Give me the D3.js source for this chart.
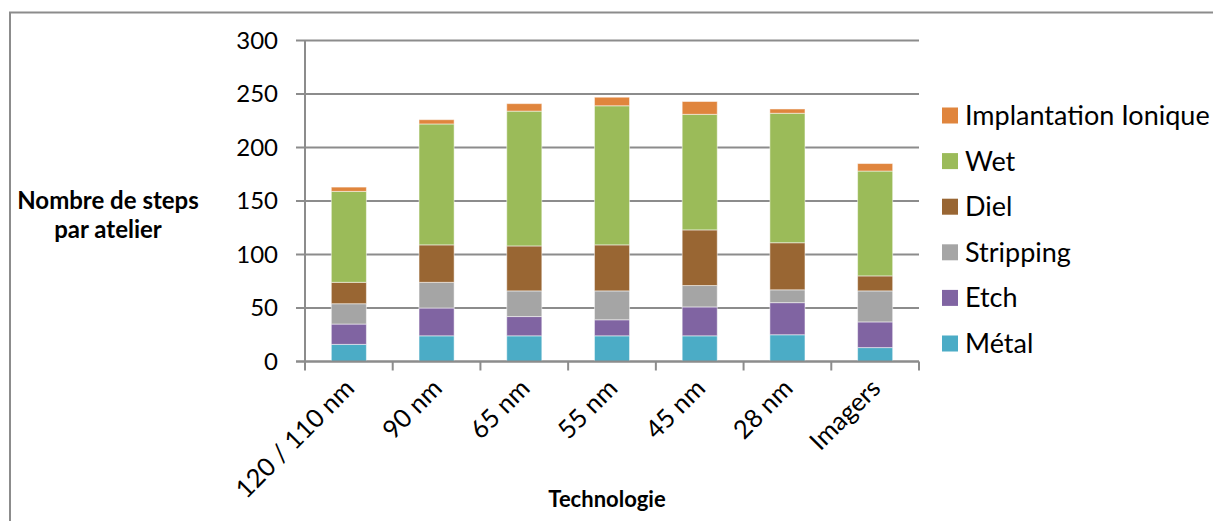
<!DOCTYPE html>
<html>
<head>
<meta charset="utf-8">
<script src="https://cdn.jsdelivr.net/npm/d3@7"></script>
<style>
  html, body { margin: 0; padding: 0; background: #fff; }
  svg { display: block; font-family: Lato, "Open Sans", sans-serif; }
</style>
</head>
<body>
<svg id="chart" width="1213" height="521"></svg>
<script>
const categories = ["120 / 110 nm", "90 nm", "65 nm", "55 nm", "45 nm", "28 nm", "Imagers"];
const seriesNames = ["Métal", "Etch", "Stripping", "Diel", "Wet", "Implantation Ionique"];
const metal     = [16, 24, 24, 24, 24, 25, 13];
const etch      = [19, 26, 18, 15, 27, 30, 24];
const stripping = [19, 24, 24, 27, 20, 12, 29];
const diel      = [20, 35, 42, 43, 52, 44, 14];
const wet       = [85, 113, 126, 130, 108, 121, 98];
const implant   = [4, 4, 7, 8, 12, 4, 7];
const yTicks    = [0, 50, 100, 150, 200, 250, 300];
const colors    = ["#4BACC6", "#8064A2", "#A5A5A5", "#996633", "#9BBB59", "#E0853D"];

const seriesValues = [metal, etch, stripping, diel, wet, implant];
const rows = categories.map((c, i) => {
  const r = { cat: c };
  seriesNames.forEach((s, j) => r[s] = seriesValues[j][i]);
  return r;
});

const svg = d3.select("#chart");
const gridColor = "#8C8C8C";

// outer frame
svg.append("path")
  .attr("d", "M1220,12.5 H10 V530")
  .attr("fill", "none").attr("stroke", "#8C8C8C").attr("stroke-width", 2);

const x = d3.scaleBand().domain(categories).range([305, 919]).paddingInner(0.6).paddingOuter(0.3);
const y = d3.scaleLinear().domain([0, 300]).range([361.5, 40.5]);

// gridlines
svg.append("g").selectAll("line").data(yTicks).join("line")
  .attr("x1", 296).attr("x2", 919)
  .attr("y1", d => y(d)).attr("y2", d => y(d))
  .attr("stroke", gridColor).attr("stroke-width", 2);

// y tick labels
svg.append("g").selectAll("text").data(yTicks).join("text")
  .attr("x", 278).attr("y", d => y(d)).attr("dy", "0.35em")
  .attr("text-anchor", "end").attr("font-size", 24).attr("fill", "#000")
  .text(d => d);

// stacked bars
const stack = d3.stack().keys(seriesNames)(rows);
svg.append("g").selectAll("g").data(stack).join("g")
  .attr("fill", (d, i) => colors[i])
  .selectAll("rect").data(d => d).join("rect")
  .attr("x", d => x(d.data.cat))
  .attr("width", x.bandwidth())
  .attr("y", d => y(d[1]))
  .attr("height", d => y(d[0]) - y(d[1]))
  .attr("stroke", "#ffffff").attr("stroke-opacity", 0.5).attr("stroke-width", 1);

// axes lines
svg.append("line").attr("x1", 305).attr("x2", 305).attr("y1", y(300)).attr("y2", y(0))
  .attr("stroke", gridColor).attr("stroke-width", 2);
svg.append("line").attr("x1", 296).attr("x2", 919).attr("y1", y(0)).attr("y2", y(0))
  .attr("stroke", gridColor).attr("stroke-width", 2);

// x ticks at category boundaries
const x0 = x.range()[0];
const boundaries = d3.range(categories.length + 1).map(i => x0 + i * x.step());
svg.append("g").selectAll("line").data(boundaries).join("line")
  .attr("x1", d => d).attr("x2", d => d)
  .attr("y1", y(0)).attr("y2", y(0) + 9)
  .attr("stroke", gridColor).attr("stroke-width", 2);

// x labels rotated
svg.append("g").selectAll("text").data(categories).join("text")
  .attr("transform", d => `translate(${x(d) + x.bandwidth() / 2 + 7},390) rotate(-45)`)
  .attr("text-anchor", "end").attr("font-size", 25.5).attr("fill", "#000")
  .text(d => d);

// axis titles
svg.append("text").attr("x", 607).attr("y", 507).attr("text-anchor", "middle")
  .attr("font-size", 22).attr("font-weight", "bold").text("Technologie");
svg.append("text").attr("x", 108).attr("y", 209).attr("text-anchor", "middle")
  .attr("font-size", 24).attr("font-weight", "bold").text("Nombre de steps");
svg.append("text").attr("x", 108).attr("y", 238).attr("text-anchor", "middle")
  .attr("font-size", 24).attr("font-weight", "bold").text("par atelier");

// legend (top to bottom: reverse stack order)
const legendItems = seriesNames.map((s, i) => ({ name: s, color: colors[i] })).reverse();
const lg = svg.append("g").selectAll("g").data(legendItems).join("g")
  .attr("transform", (d, i) => `translate(942, ${115.5 + i * 45.6})`);
lg.append("rect").attr("x", 0).attr("y", -8).attr("width", 16).attr("height", 16)
  .attr("fill", d => d.color);
lg.append("text").attr("x", 23).attr("y", 0).attr("dy", "0.35em")
  .attr("font-size", 27).attr("fill", "#000").text(d => d.name);
</script>
</body>
</html>
